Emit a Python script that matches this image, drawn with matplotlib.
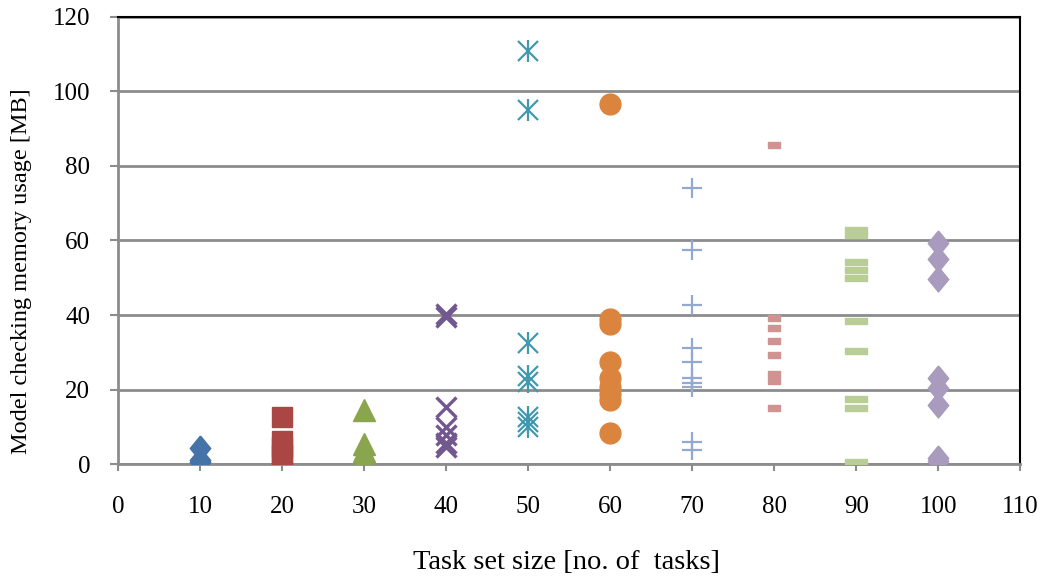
import numpy as np
import matplotlib.pyplot as plt

plt.rcParams['font.family'] = ['Liberation Serif', 'DejaVu Serif']

# memory usage [MB] per task set size
x10 = [4.3, 1.2, 0.5]
x20 = [12.6, 6.2, 4.5, 2.5, 0.8]
x30 = [14.5, 5.5, 3.5, 2.0, 0.8]
x40 = [40.2, 39.6, 15.4, 10.0, 7.8, 5.6, 4.6]
x50 = [110.8, 95.0, 32.5, 23.6, 22.0, 12.7, 11.4, 10.0]
x60 = [96.5, 39.0, 37.6, 27.4, 23.2, 20.8, 18.8, 17.2, 8.4]
x70 = [74.0, 57.4, 42.7, 31.2, 27.5, 23.0, 21.8, 20.8, 6.0, 3.8]
x80 = [85.5, 39.1, 36.6, 33.1, 29.2, 24.2, 22.4, 15.1]
x90 = [62.8, 61.5, 54.3, 52.1, 49.9, 38.5, 30.4, 17.4, 15.0, 0.6]
x100 = [59.2, 55.0, 49.6, 23.0, 20.3, 15.8, 1.5, 0.8]

sizes = [10, 20, 30, 40, 50, 60, 70, 80, 90, 100]
series = [x10, x20, x30, x40, x50, x60, x70, x80, x90, x100]

colors = ['#4572A7', '#AA4643', '#89A54E', '#71588F', '#4198AF',
          '#DB843D', '#93A9CF', '#D19392', '#B9CD96', '#A99BBD']

diamond = [(0, 1), (0.82, 0), (0, -1), (-0.82, 0), (0, 1)]
dash80 = [(-1, -0.42), (1, -0.42), (1, 0.42), (-1, 0.42), (-1, -0.42)]
dash90 = [(-1, -0.28), (1, -0.28), (1, 0.28), (-1, 0.28), (-1, -0.28)]

styles = [
    dict(marker=diamond, ms=18),
    dict(marker='s', ms=15),
    dict(marker='^', ms=16),
    dict(marker='x', ms=14, mew=2.4),
    dict(marker='x', ms=14, mew=1.6),
    dict(marker='o', ms=15),
    dict(marker='+', ms=15, mew=1.6),
    dict(marker=dash80, ms=8.6),
    dict(marker=dash90, ms=16),
    dict(marker=diamond, ms=18),
]

fig = plt.figure(figsize=(10.4, 5.83), dpi=100)
ax = fig.add_axes([0.1135, 0.204, 0.8675, 0.767])

for sz, vals, c, st in zip(sizes, series, colors, styles):
    xs = np.full(len(vals), sz)
    ax.plot(xs, vals, linestyle='none', color=c, mec=c, mfc=c, zorder=3, **st)
    if sz == 50:
        # asterisk: add the vertical stroke
        ax.plot(xs, vals, linestyle='none', marker='|', ms=16, mew=1.6,
                color=c, zorder=3)

ax.set_xlim(0, 110)
ax.set_ylim(0, 120)
ax.set_xticks(np.arange(0, 111, 10))
ax.set_yticks(np.arange(0, 121, 20))

ax.yaxis.grid(True, color='#8c8c8c', linewidth=2)
ax.set_axisbelow(True)

for s in ['left', 'bottom']:
    ax.spines[s].set_color('#8c8c8c')
    ax.spines[s].set_linewidth(2)
for s in ['top', 'right']:
    ax.spines[s].set_color('black')
    ax.spines[s].set_linewidth(1.5)

ax.tick_params(axis='x', direction='out', length=5, width=1.5,
               color='#8c8c8c', pad=18, labelsize=18)
ax.tick_params(axis='y', direction='out', length=6, width=1.5,
               color='#8c8c8c', pad=14, labelsize=18)

ax.set_xlabel('Task set size [no. of  tasks]', fontsize=20.5)
ax.set_ylabel('Model checking memory usage [MB]', fontsize=17.5)
ax.xaxis.set_label_coords(0.497, -0.193)
ax.yaxis.set_label_coords(-0.095, 0.432)

fig.savefig('out.png', dpi=100)
